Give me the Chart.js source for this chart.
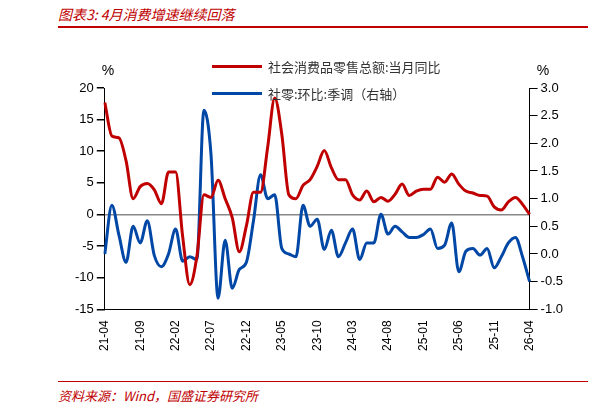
<!DOCTYPE html>
<html><head><meta charset="utf-8">
<script src="https://cdn.jsdelivr.net/npm/chart.js@4"></script>
<style>
body{margin:0;width:594px;height:416px;background:#fff;position:relative;font-family:"Noto Sans CJK SC",sans-serif;overflow:hidden}
#t{position:absolute;left:58px;top:4px;color:#c00000;font-size:14px;font-style:italic}
#tl{position:absolute;left:58px;top:26px;width:530px;height:1.5px;background:#c00000}
#f{position:absolute;left:58px;top:386px;color:#c00000;font-size:13px;font-style:italic}
#fl{position:absolute;left:58px;top:381px;width:530px;height:1px;background:#c00000}
#c{position:absolute;left:0;top:0}
.lg{position:absolute;left:212px;font-size:13px;color:#333;display:flex;align-items:center}
.lg span{display:inline-block;width:50px;height:3px;margin-right:6px}
</style></head><body>
<div id="t">图表3:  4月消费增速继续回落</div><div id="tl"></div>
<div id="fl"></div><div id="f">资料来源：Wind，国盛证券研究所</div>
<div id="c"><canvas id="cv" width="594" height="416"></canvas></div>
<div class="lg" style="top:57px"><span style="background:#c00000"></span><b style="font-weight:normal" id="l0"></b></div>
<div class="lg" style="top:84px"><span style="background:#0047a6"></span><b style="font-weight:normal" id="l1"></b></div>
<script>
const months=[];
for(let y=21,m=4;!(y===26&&m===5);){months.push(y+'-'+String(m).padStart(2,'0'));m++;if(m>12){m=1;y++;}}
const yoyRetail=[17.7,12.4,12.1,8.5,2.5,4.4,4.9,3.9,1.7,6.7,6.7,-3.5,-11.1,-6.7,3.1,2.7,5.4,2.5,-0.5,-5.9,-1.8,3.5,3.5,10.6,18.4,12.7,3.1,2.5,4.6,5.5,7.6,10.1,7.4,5.5,5.5,3.1,2.3,3.7,2.0,2.7,2.1,3.2,4.8,3.0,3.7,4.0,4.0,5.9,5.1,6.4,4.8,3.7,3.4,3.0,2.9,1.2,0.7,2.0,2.7,1.6,0.0];
const momSA=[0.0,0.88,0.34,-0.15,0.5,0.2,0.6,-0.03,-0.23,0.0,0.45,-0.13,-0.05,-0.1,2.6,1.8,-0.8,0.25,-0.62,-0.28,-0.15,0.6,1.43,1.0,1.07,0.1,0.0,-0.05,0.88,0.5,0.63,0.08,0.43,-0.05,0.2,0.45,-0.1,0.2,0.2,0.72,0.36,0.5,0.4,0.3,0.3,0.35,0.45,0.1,0.16,0.56,-0.32,0.05,0.1,-0.02,0.1,-0.25,-0.05,0.2,0.3,-0.05,-0.5];
const names=['社会消费品零售总额:当月同比','社零:环比:季调（右轴）'];
document.getElementById('l0').textContent=names[0];
document.getElementById('l1').textContent=names[1];
const pctPlugin={id:'pct',afterDraw(c){const x=c.ctx;x.save();x.fillStyle='#000';x.font='14px "Liberation Sans"';x.textAlign='center';x.fillText('%',108,75);x.fillText('%',543,75);x.restore();}};
new Chart(document.getElementById('cv'),{type:'line',
data:{labels:months,datasets:[
{label:names[0],data:yoyRetail,borderColor:'#c00000',borderWidth:3,pointRadius:0,cubicInterpolationMode:'monotone',yAxisID:'y'},
{label:names[1],data:momSA,borderColor:'#0047a6',borderWidth:3,pointRadius:0,cubicInterpolationMode:'monotone',yAxisID:'y1'}]},
options:{responsive:false,animation:false,
layout:{padding:{left:72,right:28,top:88,bottom:62}},
plugins:{legend:{display:false},tooltip:{enabled:false}},
scales:{
x:{grid:{display:false},border:{display:true,color:'#000'},ticks:{autoSkip:false,maxRotation:90,minRotation:90,font:{family:'"Liberation Sans"',size:12},color:'#000',callback:(v,i)=>i%5===0?months[i]:''}},
y:{min:-15,max:20,ticks:{stepSize:5,font:{family:'"Liberation Sans"',size:13},color:'#000'},border:{color:'#000'},grid:{drawOnChartArea:true,color:c=>c.tick.value===0?'#888':'transparent',lineWidth:1.5,tickColor:'#000'}},
y1:{position:'right',min:-1,max:3,ticks:{stepSize:0.5,callback:v=>v.toFixed(1),font:{family:'"Liberation Sans"',size:13},color:'#000'},border:{color:'#000'},grid:{drawOnChartArea:false,tickColor:'#000'}}
}}
,plugins:[pctPlugin]});
</script></body></html>
